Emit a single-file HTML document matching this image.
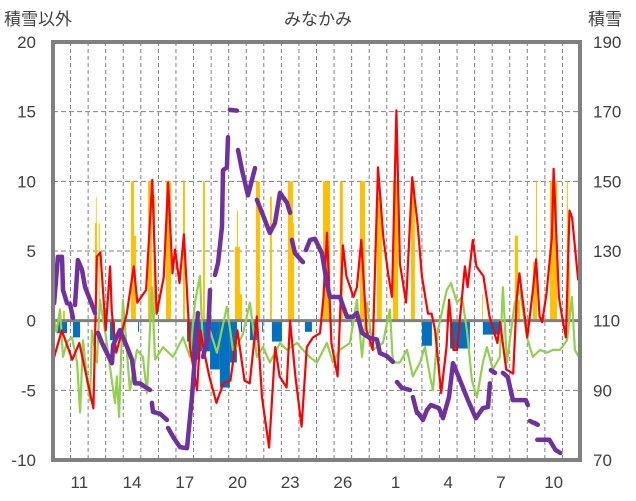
<!DOCTYPE html>
<html><head><meta charset="utf-8"><style>
html,body{margin:0;padding:0;background:#fff;}
svg{display:block;font-family:"Liberation Sans","Noto Sans CJK JP",sans-serif;}
.tk{font-size:17px;fill:#404040;}
</style></head><body>
<svg id="chart" width="636" height="501" viewBox="0 0 636 501" xmlns="http://www.w3.org/2000/svg">
<text x="318" y="25" text-anchor="middle" class="tk" font-size="18">みなかみ</text>
<text x="4" y="25" class="tk" font-size="18">積雪以外</text>
<text x="588" y="25" class="tk" font-size="18">積雪</text>
<g id="grid"></g>
<g id="bars"></g>
<g id="lines"></g>
<g id="axes"></g>
</svg>
<script>
const leftTicks=[20,15,10,5,0,-5,-10];
const rightTicks=[190,170,150,130,110,90,70];
const dayLabels=["11","14","17","20","23","26","1","4","7","10"];
const dayLabelIdx=[1,4,7,10,13,16,19,22,25,28];
const orangeBars=[[0.57,0.68,0.7],[2.39,2.5,7.0],[2.44,2.47,8.9],[2.6,2.66,7],[4.44,4.61,10],[4.61,4.72,6.1],[5.41,5.63,10],[5.72,5.81,8.9],[6.43,6.72,10],[7.4,7.51,10],[8.54,8.65,10],[10.36,10.64,5.3],[10.47,10.53,7.9],[10.53,10.76,1.9],[11.55,11.78,10],[12.35,12.46,8.9],[13.37,13.66,10],[13.66,13.72,7],[15.37,15.77,10],[16.33,16.5,10],[17.47,17.76,10],[18.44,18.72,8.9],[19.35,19.64,10],[20.38,20.6,10],[22.42,22.6,0.8],[24.42,24.47,1.9],[26.29,26.47,6.1],[26.47,26.58,1.5],[27.32,27.55,4.2],[27.49,27.55,10],[28.29,28.69,10],[29.25,29.31,10],[29.31,29.42,4.2]];
const blueBars=[[0.23,0.8,-0.9],[1.14,1.54,-1.2],[3.24,3.53,-1.4],[4.84,4.9,-0.8],[7.63,7.91,-1.5],[7.91,8.37,-2.8],[8.37,8.94,-2.2],[8.94,9.5,-3.5],[9.5,10.07,-4.8],[10.07,10.47,-3],[10.7,10.76,-0.8],[11.21,11.61,-1.4],[11.9,11.95,-0.8],[12.46,13.03,-1.5],[14.34,14.74,-0.8],[21,21.57,-1.8],[22.6,23.73,-2],[24.47,25.44,-1],[26.86,26.92,-0.8]];
const redT=[0,0.5,1.1,1.5,2.3,2.5,2.7,3,3.25,3.35,3.6,4.2,4.6,4.8,5.3,5.65,5.9,6.3,6.55,6.8,6.95,7.2,7.45,7.8,8.2,8.4,8.55,8.9,9.3,9.7,10.1,10.5,10.9,11.2,11.6,11.9,12.3,12.65,12.9,13.3,13.5,13.8,14.15,14.45,14.8,15.2,15.4,15.6,15.85,16.2,16.5,16.7,17.1,17.3,17.55,17.85,18.2,18.5,18.8,19.1,19.3,19.55,19.75,20.1,20.45,20.75,21,21.35,21.55,21.75,22.1,22.4,22.55,22.8,23,23.45,23.6,23.9,24.1,24.5,24.85,25.3,25.45,25.8,26.2,26.4,26.55,27,27.3,27.5,27.7,27.85,28.1,28.4,28.5,28.8,28.95,29.2,29.4,29.55,29.9];
const redV=[-2.9,-0.7,-2.8,-1.6,-6.3,4.6,4.9,-0.7,3.9,0.6,-2.3,0.5,3.9,1.3,2.2,10.1,0.5,3.1,9.9,3.4,5.1,2.7,6.2,-1.9,-5,-0.7,-1.9,-4,-5.9,-4.5,-4.3,-0.7,-4.3,-4.5,0.3,-5.5,-9.1,-1.9,-4,-4.8,0,-4,-7.6,-1.9,-1.2,-0.9,1.7,6.3,-1.6,-4,5.4,3.2,1.7,2.4,5.8,-0.7,-2.1,11,6,3.2,1.7,15.1,4.1,1.3,10.3,7,3.2,0.5,0.5,-0.7,-5.2,-1.9,1.5,-2.1,-2.1,3.9,2.4,5.8,3.9,3.2,0.3,-1.6,-0.1,-3.5,-3.8,1.7,3.4,-1.2,2,4.4,0.3,-0.1,2,6,10.9,1.7,0.5,-1.2,7.9,7.4,2.9];
const greenT=[0,0.2,0.4,0.57,0.8,1.08,1.37,1.54,1.71,1.94,2.11,2.22,2.5,2.67,2.96,3.24,3.53,3.64,3.76,3.98,4.38,4.78,5.12,5.35,5.63,5.81,6.26,6.83,7.4,7.8,8.08,8.37,8.54,8.94,9.33,9.9,10.24,10.36,10.8,11.21,11.61,11.95,12.35,12.92,13.32,13.89,14.23,14.6,15.03,15.59,15.94,16.33,16.9,17.3,17.59,17.87,18.21,18.78,19.18,19.35,19.75,20.15,20.49,20.89,21.17,21.46,21.63,21.91,22.42,22.65,22.99,23.28,23.56,23.85,24.13,24.47,24.7,25.04,25.44,25.61,25.84,26.29,26.58,26.98,27.32,27.72,28.12,28.46,28.86,29.26,29.54,29.71,29.94];
const greenV=[0.5,-0.8,0.8,-2.6,-1.5,-1.2,-3,-6.6,-1.4,-4.3,-5.7,-0.7,-3,1.5,-0.7,-3.3,-5.9,-4,-6.9,1.5,-5,-2.1,-2.6,-5.2,2.4,-2.8,-1.9,-2.6,-1.2,-2.6,1.3,3.2,-2.1,-0.7,-2.3,1,-2.1,-2.1,-1,1.3,-2.6,-1.9,-3,-1.6,-2.1,-1.6,-2.1,-2.6,-3,-1.6,-3,-2.1,-1.6,1.5,-2.6,1.3,-2.1,-1.6,0.8,-3,-3,-2.1,-4,-3,-1.9,-4,-5,-0.7,2.2,2.7,1.3,1.7,-0.7,-4.3,-5.5,-3,-1.9,-3.5,-2.6,2.4,-3,1.3,2.2,-1.2,-2.6,-2.1,-2.3,-2.1,-2.1,-1.4,1.7,-2.1,-2.6];
const snowSegT=[
[0.06,0.28,0.51,0.57,0.8,0.97,1.14],
[1.25,1.42,1.65,1.82,2.11,2.39],
[2.56,2.79,3.13,3.36,3.42,3.81,4.21,4.5,4.67,4.95,5.24,5.52],
[5.63,5.69,6.09,6.49],
[6.55,6.83,7.23,7.63,7.91,8.08,8.25],
[8.54,8.83,8.94],
[9.22,9.39,9.62,9.68,9.9,9.96],
[10.07,10.47],
[10.53,10.76,11.1,11.5],
[11.61,11.9,12.35,12.63,12.92,13.32,13.49],
[13.6,13.77,14.23],
[14.4,14.63,14.91,15.31,15.59,15.76,16.33,16.73,17.07,17.3,17.59,18.04,18.44,18.61,19.01,19.35],
[19.58,19.86,20.32],
[20.49,20.72,20.78,21.06,21.29,21.51,21.97,22.2,22.54,22.77,23.17,23.62,24.07,24.47,24.76,24.87],
[24.93,25.16],
[25.61,25.89,26.18,26.46,26.92,27.03],
[27.15,27.6,27.4],
[27.57,28.26,28.6,28.88]];
const snowSegV=[
[115,128.3,128.3,118.8,115,114.8,110.8],
[114.5,127.4,124.6,119.7,116,112.2],
[106.5,103.6,100.1,97.8,103,107.3,102.5,98.7,92,92,91,90.1],
[86.4,83.8,83.3,81.5],
[79.2,76.7,73.7,73.4,88.1,99.6,112.2],
[99.6,105.4,118.8],
[123.1,126.5,137,153.2,154,162.7],
[170.5,170.3],
[159,153.2,146,153.8],
[144.7,141,135.2,138,146.7,143.8,141],
[133.2,129.4,126.8],
[130.3,133.2,133.5,129.4,120.7,116.8,116.8,111.1,111.1,112.2,106.5,105,104.6,100.7,99.8,98.2],
[92.4,90.7,90.1],
[88.1,83.5,83.5,81.5,84.4,85.8,84.9,82,88.1,97.8,92.9,87.2,82,84.9,85.2,92],
[95.8,95],
[95,93.8,87.2,87.2,87.2,85.8],
[81.2,80.1,80.7],
[75.8,75.8,72.9,72]];

const X0=53,X1=580,Y0=42,Y1=460,DAYS=30;
const xs=t=>X0+t*(X1-X0)/DAYS;
const yL=v=>Y1-(v+10)*(Y1-Y0)/30;
const yR=v=>Y1-(v-70)*(Y1-Y0)/120;
const NS="http://www.w3.org/2000/svg";
function mk(tag,attrs,parent){const e=document.createElementNS(NS,tag);for(const k in attrs)e.setAttribute(k,attrs[k]);parent.appendChild(e);return e;}
const grid=document.getElementById('grid'),bars=document.getElementById('bars'),lines=document.getElementById('lines'),axes=document.getElementById('axes');
for(let d=1;d<DAYS;d++){const l=mk('line',{x1:xs(d),x2:xs(d),y1:Y0,y2:Y1,stroke:'#808080','stroke-width':1,'stroke-dasharray':'4,3'},grid);

}
leftTicks.forEach(v=>{if(v===20||v===-10||v===0)return;const l=mk('line',{x1:X0,x2:X1,y1:yL(v),y2:yL(v),stroke:'#808080','stroke-width':1,'stroke-dasharray':'5,3'},grid);

});
orangeBars.forEach(b=>{const r=mk('rect',{x:xs(b[0]),width:Math.max(0.8,xs(b[1])-xs(b[0])),y:yL(b[2]),height:yL(0)-yL(b[2]),fill:'#FFC000'},bars);

});
blueBars.forEach(b=>{const r=mk('rect',{x:xs(b[0]),width:Math.max(0.8,xs(b[1])-xs(b[0])),y:yL(0),height:yL(b[2])-yL(0),fill:'#0070C0'},bars);

});
const zl=mk('line',{x1:X0,x2:X1,y1:yL(0),y2:yL(0),stroke:'#808080','stroke-width':3},bars);


function poly(T,V,yf){return T.map((t,i)=>xs(t).toFixed(1)+','+yf(V[i]).toFixed(1)).join(' ');}
const g=mk('polyline',{points:poly(greenT,greenV,yL),fill:'none',stroke:'#92D050','stroke-width':2.2,'stroke-linejoin':'round'},lines);


const r=mk('polyline',{points:poly(redT,redV,yL),fill:'none',stroke:'#FF0000','stroke-width':2.2,'stroke-linejoin':'round'},lines);


snowSegT.forEach((T,i)=>{const p=mk('polyline',{points:poly(T,snowSegV[i],yR),fill:'none',stroke:'#7030A0','stroke-width':4.5,'stroke-linejoin':'round','stroke-linecap':'round'},lines);

});
const fr=mk('rect',{x:X0,y:Y0,width:X1-X0,height:Y1-Y0,fill:'none',stroke:'#808080','stroke-width':4},axes);


leftTicks.forEach(v=>{const t=mk('text',{x:36,y:yL(v)+6,'text-anchor':'end',class:'tk'},axes);t.textContent=v;

});
rightTicks.forEach(v=>{const t=mk('text',{x:593,y:yR(v)+6,class:'tk'},axes);t.textContent=v;

});
dayLabels.forEach((s,i)=>{const t=mk('text',{x:xs(dayLabelIdx[i]+0.5),y:488,'text-anchor':'middle',class:'tk'},axes);t.textContent=s;

});
</script>
</body></html>
